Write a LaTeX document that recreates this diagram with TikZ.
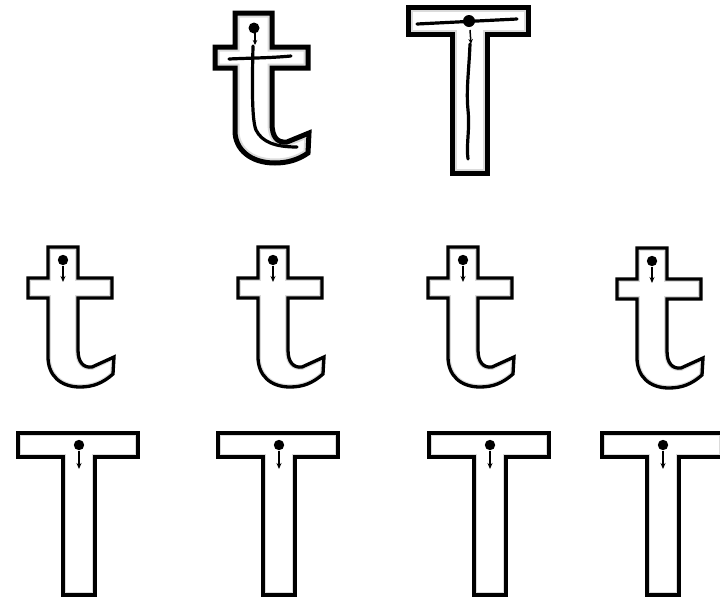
\documentclass[tikz,border=0pt]{standalone}
\usetikzlibrary{arrows.meta}
\newcommand\bandshape[3]{%
  \begin{scope}\clip #3; \draw[line width=#1pt, black!14] #3; \end{scope}
  \draw[line width=#2pt, line join=miter] #3;}
\newcommand\smallt[2]{%
  \begin{scope}[shift={(#1,#2)}]
    \bandshape{5.6}{3.3}{(0,0) -- (30,0) -- (30,31) -- (64,31) -- (64,51) -- (30,51) -- (30,103)
      .. controls (30,116) and (36,121) .. (44,120) -- (66,110) -- (65,127)
      .. controls (55,136) and (45,140) .. (32,140) .. controls (12,140) and (0,128) .. (0,110)
      -- (0,51) -- (-20,51) -- (-20,31) -- (0,31) -- cycle}
    \fill (15,13) circle (5.2);
    \draw[tip] (15,19) -- (15,35);
  \end{scope}}
\newcommand\smallT[1]{%
  \begin{scope}[shift={(#1,0)}]
    \bandshape{5.6}{3.3}{(-61,433) -- (59,433) -- (59,457) -- (16,457) -- (16,595) -- (-16,595) -- (-16,457) -- (-61,457) -- cycle}
    \fill (0,445) circle (5.2);
    \draw[tip] (0,451) -- (0,469);
  \end{scope}}
\tikzset{tip/.style={line width=1.4pt, -{Stealth[length=6pt,width=5pt]}},
  trace/.style={line width=3.2pt, line cap=round}}
\begin{document}
\begin{tikzpicture}[x=1pt,y=-1pt]
\useasboundingbox (0,0) rectangle (720,598);
% top lowercase t
\begin{scope}[shift={(235,13)}]
  \bandshape{9}{5}{(0,0) -- (37,0) -- (37,34) -- (73,34) -- (73,55) -- (37,55) -- (37,110)
    .. controls (37,124) and (42,130) .. (52,129) -- (74,120) -- (73,140)
    .. controls (63,147) and (52,150) .. (40,150) .. controls (15,150) and (0,136) .. (0,118)
    -- (0,55) -- (-20,55) -- (-20,34) -- (0,34) -- cycle}
\end{scope}
\fill (254,28) circle (5.5);
\draw[line width=1.5pt, -{Stealth[length=5pt,width=4.5pt]}] (255,32) -- (255,45);
\draw[trace] (253,46) .. controls (252,90) and (252,120) .. (256,130)
  .. controls (262,142) and (275,147) .. (297,147);
\draw[trace] (229,59) .. controls (250,58) and (270,58) .. (291,56);
% top uppercase T
\bandshape{9}{5}{(408,7) -- (528,7) -- (528,34) -- (487,34) -- (487,173) -- (452,173) -- (452,34) -- (408,34) -- cycle}
\fill (469,21) circle (6);
\draw[trace] (417,24) -- (517,19);
\draw[line width=1.5pt, -{Stealth[length=5pt,width=4.5pt]}] (470,30) -- (471,44);
\draw[trace] (470,44) .. controls (469,70) and (466,90) .. (468,110)
  .. controls (470,130) and (466,145) .. (468,159);
% second row
\smallt{48}{247}
\smallt{258}{247}
\smallt{448}{247}
\smallt{637}{248}
% third row
\smallT{79}
\smallT{279}
\smallT{490}
\smallT{663}
\end{tikzpicture}
\end{document}
